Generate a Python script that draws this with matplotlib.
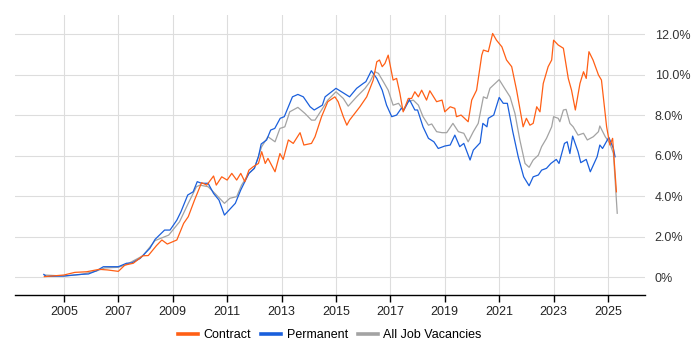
import matplotlib
matplotlib.use("Agg")
import matplotlib.pyplot as plt
from matplotlib.ticker import FuncFormatter

plt.rcParams["font.family"] = ["Liberation Sans", "DejaVu Sans"]

# --- datos (anio decimal, % de vacantes) ---
contract_anio = [
    2004.28, 2005.0, 2005.4, 2005.83, 2006.3, 2006.6, 2007.0, 2007.24, 2007.55, 2007.9,
    2008.1, 2008.4, 2008.6, 2008.8, 2009.15, 2009.4, 2009.57, 2009.8, 2010.06, 2010.25,
    2010.5, 2010.6, 2010.8, 2011.0, 2011.17, 2011.35, 2011.5, 2011.65, 2011.8, 2011.96,
    2012.15, 2012.27, 2012.4, 2012.5, 2012.76, 2012.94, 2013.06, 2013.25, 2013.43, 2013.68,
    2013.82, 2014.1, 2014.23, 2014.47, 2014.7, 2014.96, 2015.08, 2015.27, 2015.4, 2015.5,
    2015.88, 2016.13, 2016.37, 2016.5, 2016.6, 2016.7, 2016.8, 2016.92, 2017.1, 2017.23,
    2017.35, 2017.47, 2017.66, 2017.78, 2017.9, 2018.03, 2018.15, 2018.33, 2018.45, 2018.7,
    2018.9, 2019.0, 2019.2, 2019.37, 2019.43, 2019.6, 2019.86, 2019.99, 2020.17, 2020.36,
    2020.42, 2020.6, 2020.76, 2020.9, 2021.1, 2021.27, 2021.46, 2021.64, 2021.88, 2022.0,
    2022.13, 2022.25, 2022.38, 2022.5, 2022.62, 2022.8, 2022.93, 2023.0, 2023.17, 2023.36,
    2023.54, 2023.66, 2023.8, 2023.97, 2024.1, 2024.2, 2024.3, 2024.45, 2024.65, 2024.76,
    2024.95, 2025.07, 2025.17, 2025.31,
]
contract_pct = [
    0.02, 0.10, 0.23, 0.26, 0.38, 0.35, 0.28, 0.59, 0.68, 1.05,
    1.06, 1.55, 1.83, 1.63, 1.83, 2.65, 2.98, 3.80, 4.66, 4.54,
    4.99, 4.54, 4.95, 4.79, 5.12, 4.79, 5.12, 4.71, 5.28, 5.45,
    5.61, 6.19, 5.61, 5.86, 5.20, 6.10, 5.81, 6.77, 6.60, 7.13,
    6.52, 6.60, 6.93, 7.92, 8.66, 8.90, 8.66, 7.92, 7.50, 7.75,
    8.41, 8.90, 9.73, 10.63, 10.72, 10.39, 10.55, 10.96, 9.73, 9.81,
    9.07, 8.16, 8.82, 8.82, 9.15, 8.90, 9.23, 8.74, 9.20, 8.66,
    8.74, 8.16, 8.41, 8.33, 7.92, 8.00, 7.67, 8.74, 9.23, 10.96,
    11.21, 11.13, 12.03, 11.70, 11.37, 10.72, 10.39, 9.23, 7.42, 7.84,
    7.50, 7.59, 8.41, 8.16, 9.56, 10.39, 10.72, 11.70, 11.46, 11.30,
    9.81, 9.23, 8.25, 9.56, 10.14, 9.81, 11.13, 10.72, 9.98, 9.73,
    7.42, 6.52, 6.85, 4.21,
]

perm_anio = [
    2004.26, 2004.35, 2005.0, 2005.6, 2005.9, 2006.2, 2006.45, 2007.0, 2007.3, 2007.5,
    2007.8, 2008.16, 2008.35, 2008.7, 2008.9, 2009.15, 2009.3, 2009.55, 2009.75, 2009.9,
    2010.06, 2010.3, 2010.5, 2010.7, 2010.9, 2011.1, 2011.3, 2011.5, 2011.8, 2012.0,
    2012.15, 2012.25, 2012.45, 2012.6, 2012.75, 2012.95, 2013.1, 2013.4, 2013.6, 2013.8,
    2014.05, 2014.2, 2014.5, 2014.6, 2015.0, 2015.3, 2015.5, 2015.76, 2016.0, 2016.1,
    2016.3, 2016.5, 2016.7, 2016.86, 2017.05, 2017.23, 2017.4, 2017.5, 2017.7, 2017.9,
    2018.0, 2018.2, 2018.4, 2018.6, 2018.76, 2019.0, 2019.2, 2019.37, 2019.55, 2019.7,
    2019.93, 2020.05, 2020.3, 2020.4, 2020.55, 2020.6, 2020.8, 2021.0, 2021.15, 2021.3,
    2021.5, 2021.7, 2021.9, 2022.1, 2022.25, 2022.44, 2022.56, 2022.74, 2022.9, 2023.1,
    2023.2, 2023.4, 2023.5, 2023.6, 2023.7, 2023.9, 2024.0, 2024.2, 2024.35, 2024.6,
    2024.7, 2024.8, 2025.03, 2025.2, 2025.26,
]
perm_pct = [
    0.13, 0.03, 0.05, 0.13, 0.15, 0.31, 0.51, 0.51, 0.68, 0.70,
    0.92, 1.42, 1.86, 2.32, 2.32, 2.81, 3.22, 4.05, 4.21, 4.71,
    4.63, 4.63, 4.13, 3.80, 3.06, 3.35, 3.64, 4.30, 5.12, 5.37,
    5.94, 6.57, 6.77, 7.26, 7.34, 7.84, 7.92, 8.90, 9.02, 8.90,
    8.41, 8.25, 8.49, 8.90, 9.32, 9.07, 8.90, 9.32, 9.56, 9.65,
    10.19, 9.81, 9.23, 8.49, 7.92, 8.00, 8.33, 8.25, 8.77, 8.25,
    8.25, 7.42, 6.85, 6.68, 6.35, 6.47, 6.52, 7.01, 6.44, 6.60,
    5.78, 6.27, 6.63, 7.59, 7.42, 7.84, 8.00, 8.87, 8.58, 8.58,
    7.18, 5.94, 4.95, 4.51, 4.95, 5.04, 5.28, 5.37, 5.61, 5.81,
    5.61, 6.60, 6.68, 6.10, 6.96, 6.19, 5.65, 5.81, 5.20, 5.94,
    6.52, 6.35, 6.90, 6.35, 5.94,
]

todas_anio = [
    2004.28, 2005.0, 2005.6, 2006.2, 2006.5, 2007.0, 2007.3, 2007.9, 2008.35, 2008.85,
    2009.25, 2009.57, 2009.87, 2010.0, 2010.3, 2010.55, 2010.9, 2011.1, 2011.35, 2011.53,
    2011.8, 2012.0, 2012.27, 2012.5, 2012.76, 2012.94, 2013.12, 2013.3, 2013.6, 2013.86,
    2014.1, 2014.23, 2014.47, 2014.7, 2015.0, 2015.27, 2015.45, 2015.76, 2016.07, 2016.25,
    2016.43, 2016.56, 2016.74, 2016.92, 2017.1, 2017.3, 2017.47, 2017.66, 2017.84, 2018.03,
    2018.2, 2018.4, 2018.52, 2018.7, 2018.9, 2019.07, 2019.3, 2019.5, 2019.7, 2019.86,
    2020.05, 2020.23, 2020.42, 2020.55, 2020.66, 2021.0, 2021.2, 2021.4, 2021.58, 2021.76,
    2021.95, 2022.1, 2022.25, 2022.44, 2022.56, 2022.74, 2022.93, 2023.0, 2023.17, 2023.23,
    2023.36, 2023.46, 2023.6, 2023.72, 2023.9, 2024.1, 2024.24, 2024.46, 2024.65, 2024.7,
    2024.9, 2025.07, 2025.2, 2025.34,
]
todas_pct = [
    0.10, 0.05, 0.12, 0.30, 0.45, 0.48, 0.62, 1.05, 1.80, 2.07,
    2.73, 3.64, 4.46, 4.54, 4.46, 4.13, 3.64, 3.89, 3.97, 4.54,
    5.12, 5.37, 6.44, 6.93, 6.68, 7.34, 7.42, 8.16, 8.38, 8.08,
    7.75, 7.75, 8.25, 8.74, 9.15, 8.82, 8.44, 8.90, 9.32, 9.65,
    10.14, 10.06, 9.65, 9.23, 8.49, 8.58, 8.25, 8.66, 8.74, 8.49,
    7.92, 7.50, 7.56, 7.18, 7.13, 7.13, 7.59, 7.18, 7.10, 6.68,
    7.18, 7.59, 8.90, 8.82, 9.32, 9.75, 9.32, 8.90, 8.08, 6.77,
    5.61, 5.42, 5.78, 6.02, 6.44, 6.85, 7.42, 7.92, 7.84, 7.67,
    8.25, 8.28, 7.59, 7.42, 7.01, 7.10, 6.77, 6.93, 7.18, 7.46,
    6.93, 6.60, 6.10, 3.15,
]

anios_ticks = list(range(2005, 2026, 2))
pct_ticks = [0, 2, 4, 6, 8, 10, 12]

NARANJA = "#ff5f15"
AZUL = "#1a5fdc"
GRIS = "#a3a3a3"

fig = plt.figure(figsize=(7, 3.5), dpi=100)
ax = fig.add_axes([0.0214, 0.157, 0.9, 0.8])

ax.plot(todas_anio, todas_pct, color=GRIS, lw=0.9, label="All Job Vacancies", zorder=3)
ax.plot(perm_anio, perm_pct, color=AZUL, lw=0.9, label="Permanent", zorder=4)
ax.plot(contract_anio, contract_pct, color=NARANJA, lw=0.9, label="Contract", zorder=5)

ax.set_xlim(2003.2, 2026.36)
ax.set_ylim(-0.89, 12.94)
ax.set_xticks(anios_ticks)
ax.set_yticks(pct_ticks)
ax.yaxis.set_major_formatter(FuncFormatter(lambda v, _: "0%" if v == 0 else f"{v:.1f}%"))
ax.yaxis.tick_right()
ax.tick_params(axis="y", length=0, pad=7, labelsize=9, labelcolor="#333333")
ax.tick_params(axis="x", length=5, width=1, color="black", labelsize=9, labelcolor="#222222", pad=3)
ax.grid(True, color="#dddddd", lw=0.8)
ax.set_axisbelow(True)
for lado in ["top", "left", "right"]:
    ax.spines[lado].set_visible(False)
ax.spines["bottom"].set_color("black")
ax.spines["bottom"].set_linewidth(1.0)

# leyenda abajo, en el orden del original
h, l = ax.get_legend_handles_labels()
orden = [2, 1, 0]
leg = fig.legend([h[i] for i in orden], [l[i] for i in orden], loc="center",
                 bbox_to_anchor=(0.471, 0.043), ncol=3, frameon=False, fontsize=9,
                 handlelength=1.6, handletextpad=0.45, columnspacing=0.8)
for linea in leg.get_lines():
    linea.set_linewidth(2.6)

fig.savefig("out.png", dpi=100)
